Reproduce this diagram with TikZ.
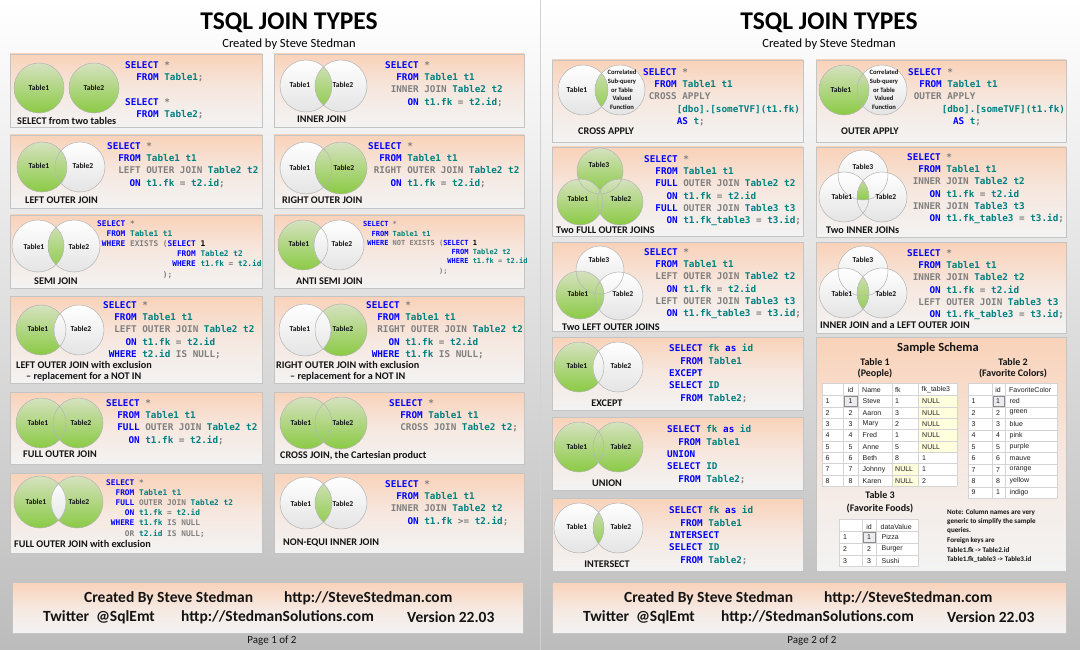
\documentclass[tikz,border=0pt]{standalone}
\usepackage{fontspec}
\setmainfont{Carlito}
\newfontfamily\codefont{DejaVu Sans Mono}
\newfontfamily\gridfont{Liberation Sans}
\definecolor{qblue}{RGB}{0,0,255}
\definecolor{qgray}{RGB}{128,128,128}
\definecolor{qteal}{RGB}{0,128,128}
\definecolor{pk1}{RGB}{249,210,185}
\definecolor{pk2}{RGB}{246,232,224}
\definecolor{pk3}{RGB}{243,243,243}
\definecolor{pbord}{RGB}{196,196,196}
\definecolor{vg1}{RGB}{214,226,192}
\definecolor{vg2}{RGB}{138,202,68}
\definecolor{vw2}{RGB}{228,228,228}
\definecolor{vln}{RGB}{180,180,180}
\definecolor{bgbot}{RGB}{188,188,188}
\definecolor{pdiv}{RGB}{210,210,210}
\definecolor{grl}{RGB}{212,212,212}
\definecolor{nully}{RGB}{255,255,222}
\definecolor{self}{RGB}{236,236,240}
\definecolor{seld}{RGB}{140,140,140}
\definecolor{gtxt}{RGB}{30,30,30}
\definecolor{txt}{RGB}{20,20,20}
\newcommand\qk[1]{\textcolor{qblue}{#1}}
\newcommand\qg[1]{\textcolor{qgray}{#1}}
\newcommand\qb[1]{\textcolor{black}{#1}}
\newcommand\vtwo[7]{%
  \path[#5] (#1,#3) circle (#4pt);
  \path[#6] (#2,#3) circle (#4pt);
  \begin{scope}\clip (#1,#3) circle (#4pt);\path[#7] (#2,#3) circle (#4pt);\end{scope}
  \draw[vline] (#1,#3) circle (#4pt) (#2,#3) circle (#4pt);}
\tikzset{
  gfill/.style={top color=vg1, bottom color=vg2},
  wfill/.style={top color=white, bottom color=vw2},
  vline/.style={draw=vln, line width=0.5pt},
  panel/.style={top color=pk1, bottom color=pk3, middle color=pk2, draw=pbord, line width=0.6pt},
  codebase/.style={anchor=north west, align=left, inner sep=0pt, text=qteal, execute at begin node=\strut},
  codeA/.style={codebase, yshift=3.1pt, font=\codefont\bfseries\fontsize{9.3}{12.35}\selectfont},
  codeB/.style={codebase, yshift=2.8pt, font=\codefont\bfseries\fontsize{7.8}{10.2}\selectfont},
  codeC/.style={codebase, yshift=2.6pt, font=\codefont\bfseries\fontsize{7.0}{9.3}\selectfont},
  jcap/.style={anchor=west, inner sep=0pt, text=txt, font=\bfseries\fontsize{10.2}{11}\selectfont},
  jcapc/.style={jcap, anchor=center},
  vlab/.style={inner sep=0pt, text=txt, font=\bfseries\fontsize{7.6}{8}\selectfont},
  fnlab/.style={inner sep=0pt, align=center, text=txt, font=\bfseries\fontsize{6.6}{8.7}\selectfont},
  ftxt/.style={anchor=west, inner sep=0pt, text=txt, font=\bfseries\fontsize{15.5}{17}\selectfont},
  gline/.style={draw=grl, line width=0.4pt},
  selcell/.style={fill=self, draw=seld, line width=0.5pt},
  gt/.style={inner sep=0pt, text=gtxt, font=\gridfont\fontsize{7}{8}\selectfont},
  sch/.style={inner sep=0pt, text=txt, font=\bfseries\fontsize{10}{11}\selectfont},
  note/.style={anchor=west, inner sep=0pt, text=txt, font=\bfseries\fontsize{7.1}{8}\selectfont}
}
\begin{document}
\begin{tikzpicture}[x=1pt,y=-1pt]
\useasboundingbox (0,0) rectangle (1080,650);
% pages
\path[top color=white, bottom color=bgbot] (0,0) rectangle (540,650);
\path[top color=white, bottom color=bgbot] (540,0) rectangle (1080,650);
\draw[pdiv, line width=1pt] (540,0) -- (540,650);
% titles
\node[inner sep=0pt, font=\bfseries\fontsize{25.5}{28}\selectfont] (titleL) at (289,23) {TSQL JOIN TYPES};
\node[inner sep=0pt, font=\fontsize{12.5}{14}\selectfont] (subL) at (289,44) {Created by Steve Stedman};
\node[inner sep=0pt, font=\bfseries\fontsize{25.5}{28}\selectfont] (titleR) at (829,23) {TSQL JOIN TYPES};
\node[inner sep=0pt, font=\fontsize{12.5}{14}\selectfont] (subR) at (829,44) {Created by Steve Stedman};
% panels left page
\foreach \ya/\yb in {54/127,135/208,215/288,296/383,392/464,473/553}{
  \path[panel] (10,\ya) rectangle (262,\yb);
  \path[panel] (274,\ya) rectangle (524,\yb);
}
% panels right page
\foreach \ya/\yb in {60/142,147/236,242/331,337/410,417/490,498/571}{
  \path[panel] (552,\ya) rectangle (803,\yb);
}
\foreach \ya/\yb in {60/142,147/237,242/333,337/571}{
  \path[panel] (816,\ya) rectangle (1066,\yb);
}
% footers
\path[panel] (12,582) rectangle (523,633);
\path[panel] (552,582) rectangle (1066,633);
\node[ftxt] (f1a) at (84,598) {Created By Steve Stedman};
\node[ftxt] (f1b) at (284,598) {http://SteveStedman.com};
\node[ftxt] (f1c) at (43,617) {Twitter\ \ @SqlEmt};
\node[ftxt] (f1d) at (181,617) {http://StedmanSolutions.com};
\node[ftxt] (f1e) at (407,617) {Version 22.03};
\node[ftxt] (f2a) at (624,598) {Created By Steve Stedman};
\node[ftxt] (f2b) at (824,598) {http://SteveStedman.com};
\node[ftxt] (f2c) at (583,617) {Twitter\ \ @SqlEmt};
\node[ftxt] (f2d) at (721,617) {http://StedmanSolutions.com};
\node[ftxt] (f2e) at (947,617) {Version 22.03};
\node[inner sep=0pt, text=txt, font=\fontsize{11}{12}\selectfont] (pg1) at (272,641) {Page 1 of 2};
\node[inner sep=0pt, text=txt, font=\fontsize{11}{12}\selectfont] (pg2) at (812,641) {Page 2 of 2};

% ---------- P1 SELECT from two tables
\vtwo{39}{94}{88}{25}{gfill}{gfill}{gfill}
\node[vlab] (p1a) at (39,88) {Table1};
\node[vlab] (p1b) at (94,88) {Table2};
\node[jcap] (p1c) at (17,121) {SELECT from two tables};
\node[codeA] (p1s) at (125,64) {\qk{SELECT} \qg{*}\\~~\qk{FROM} Table1\qg{;}\\\mbox{}\\\qk{SELECT} \qg{*}\\~~\qk{FROM} Table2\qg{;}};
% ---------- P2 INNER JOIN
\vtwo{306}{341}{86}{26}{wfill}{wfill}{gfill}
\node[vlab] (p2a) at (300,85) {Table1};
\node[vlab] (p2b) at (343,85) {Table2};
\node[jcap] (p2c) at (297,119) {INNER JOIN};
\node[codeA] (p2s) at (385,64) {\qk{SELECT} \qg{*}\\~~\qk{FROM} Table1 t1\\~\qg{INNER JOIN} Table2 t2\\~~~~\qk{ON} t1.fk \qg{=} t2.id\qg{;}};
% ---------- P3 LEFT OUTER JOIN
\vtwo{42}{80}{167}{25}{gfill}{wfill}{gfill}
\node[vlab] (p3a) at (39,166) {Table1};
\node[vlab] (p3b) at (83,166) {Table2};
\node[jcap] (p3c) at (25,200) {LEFT OUTER JOIN};
\node[codeA] (p3s) at (107,145) {\qk{SELECT} \qg{*}\\~~\qk{FROM} Table1 t1\\~~\qg{LEFT OUTER JOIN} Table2 t2\\~~~~\qk{ON} t1.fk \qg{=} t2.id\qg{;}};
% ---------- P4 RIGHT OUTER JOIN
\vtwo{306}{341}{168}{26}{wfill}{gfill}{gfill}
\node[vlab] (p4a) at (300,168) {Table1};
\node[vlab] (p4b) at (344,168) {Table2};
\node[jcap] (p4c) at (282,200) {RIGHT OUTER JOIN};
\node[codeA] (p4s) at (368,145) {\qk{SELECT} \qg{*}\\~~\qk{FROM} Table1 t1\\~\qg{RIGHT OUTER JOIN} Table2 t2\\~~~~\qk{ON} t1.fk \qg{=} t2.id\qg{;}};
% ---------- P5 SEMI JOIN
\vtwo{38}{74}{246}{26}{wfill}{wfill}{gfill}
\node[vlab] (p5a) at (34,247) {Table1};
\node[vlab] (p5b) at (79,247) {Table2};
\node[jcap] (p5c) at (34,281) {SEMI JOIN};
\node[codeB] (p5s) at (97,223) {\qk{SELECT} \qg{*}\\~~\qk{FROM} Table1 t1\\~\qk{WHERE} \qg{EXISTS (}\qk{SELECT} \qb{1}\\~~~~~~~~~~~~~~~~~\qk{FROM} Table2 t2\\~~~~~~~~~~~~~~~~\qk{WHERE} t1.fk \qg{=} t2.id\\~~~~~~~~~~~~~~\qg{);}};
% ---------- P6 ANTI SEMI JOIN
\vtwo{303}{339}{245}{25}{gfill}{wfill}{wfill}
\node[vlab] (p6a) at (299,244) {Table1};
\node[vlab] (p6b) at (342,244) {Table2};
\node[jcap] (p6c) at (296,281) {ANTI SEMI JOIN};
\node[codeC] (p6s) at (363,224) {\qk{SELECT} \qg{*}\\~~\qk{FROM} Table1 t1\\~\qk{WHERE} \qg{NOT EXISTS (}\qk{SELECT} \qb{1}\\~~~~~~~~~~~~~~~~~~~~~\qk{FROM} Table2 t2\\~~~~~~~~~~~~~~~~~~~~\qk{WHERE} t1.fk \qg{=} t2.id\\~~~~~~~~~~~~~~~~~~\qg{);}};
% ---------- P7 LEFT OUTER JOIN with exclusion
\vtwo{41}{79}{330}{25}{gfill}{wfill}{wfill}
\node[vlab] (p7a) at (38,329) {Table1};
\node[vlab] (p7b) at (81,329) {Table2};
\node[jcap] (p7c) at (16,365) {LEFT OUTER JOIN with exclusion};
\node[jcap] (p7d) at (26,377) {-- replacement for a NOT IN};
\node[codeA] (p7s) at (103,304) {\qk{SELECT} \qg{*}\\~~\qk{FROM} Table1 t1\\~~\qg{LEFT OUTER JOIN} Table2 t2\\~~~~\qk{ON} t1.fk \qg{=} t2.id\\~\qk{WHERE} t2.id \qg{IS NULL;}};
% ---------- P8 RIGHT OUTER JOIN with exclusion
\vtwo{305}{341}{330}{26}{wfill}{gfill}{wfill}
\node[vlab] (p8a) at (300,329) {Table1};
\node[vlab] (p8b) at (343,329) {Table2};
\node[jcap] (p8c) at (276,365) {RIGHT OUTER JOIN with exclusion};
\node[jcap] (p8d) at (290,377) {-- replacement for a NOT IN};
\node[codeA] (p8s) at (366,304) {\qk{SELECT} \qg{*}\\~~\qk{FROM} Table1 t1\\~~\qg{RIGHT OUTER JOIN} Table2 t2\\~~~~\qk{ON} t1.fk \qg{=} t2.id\\~\qk{WHERE} t1.fk \qg{IS NULL;}};
% ---------- P9 FULL OUTER JOIN
\vtwo{41}{78}{423}{25}{gfill}{gfill}{gfill}
\node[vlab] (p9a) at (38,423) {Table1};
\node[vlab] (p9b) at (81,423) {Table2};
\node[jcap] (p9c) at (23,454) {FULL OUTER JOIN};
\node[codeA] (p9s) at (106,402) {\qk{SELECT} \qg{*}\\~~\qk{FROM} Table1 t1\\~~\qk{FULL} \qg{OUTER JOIN} Table2 t2\\~~~~\qk{ON} t1.fk \qg{=} t2.id\qg{;}};
% ---------- P10 CROSS JOIN
\vtwo{306}{341}{423}{26}{gfill}{gfill}{gfill}
\node[vlab] (p10a) at (301,423) {Table1};
\node[vlab] (p10b) at (343,423) {Table2};
\node[jcap] (p10c) at (280,456) {CROSS JOIN, the Cartesian product};
\node[codeA] (p10s) at (389,402) {\qk{SELECT} \qg{*}\\~~\qk{FROM} Table1 t1\\~~\qg{CROSS JOIN} Table2 t2\qg{;}};
% ---------- P11 FULL OUTER JOIN with exclusion
\vtwo{40}{77}{502}{26}{gfill}{gfill}{wfill}
\node[vlab] (p11a) at (36,502) {Table1};
\node[vlab] (p11b) at (79,502) {Table2};
\node[jcap] (p11c) at (14,544) {FULL OUTER JOIN with exclusion};
\node[codeB] (p11s) at (106,482) {\qk{SELECT} \qg{*}\\~~\qk{FROM} Table1 t1\\~~\qk{FULL} \qg{OUTER JOIN} Table2 t2\\~~~~\qk{ON} t1.fk \qg{=} t2.id\\~\qk{WHERE} t1.fk \qg{IS NULL}\\~~~~\qg{OR} t2.id \qg{IS NULL;}};
% ---------- P12 NON-EQUI INNER JOIN
\vtwo{306}{341}{503}{26}{wfill}{wfill}{gfill}
\node[vlab] (p12a) at (301,504) {Table1};
\node[vlab] (p12b) at (343,504) {Table2};
\node[jcap] (p12c) at (283,543) {NON-EQUI INNER JOIN};
\node[codeA] (p12s) at (385,483) {\qk{SELECT} \qg{*}\\~~\qk{FROM} Table1 t1\\~\qg{INNER JOIN} Table2 t2\\~~~~\qk{ON} t1.fk \qg{>=} t2.id\qg{;}};

% ---------- R1 CROSS APPLY
\vtwo{583}{620}{90}{25}{wfill}{wfill}{gfill}
\node[vlab] (r1a) at (577,90) {Table1};
\node[fnlab] (r1b) at (622,90) {Correlated\\Sub-query\\or Table\\Valued\\Function};
\node[jcap] (r1c) at (578,131) {CROSS APPLY};
\node[codeA] (r1s) at (643,71) {\qk{SELECT} \qg{*}\\~~\qk{FROM} Table1 t1\\~\qg{CROSS APPLY}\\~~~~~~[dbo].[someTVF](t1.fk)\\~~~~~~\qk{AS} t\qg{;}};
% ---------- R2 OUTER APPLY
\vtwo{844}{882}{90}{25}{gfill}{wfill}{gfill}
\node[vlab] (r2a) at (841,90) {Table1};
\node[fnlab] (r2b) at (884,90) {Correlated\\Sub-query\\or Table\\Valued\\Function};
\node[jcap] (r2c) at (841,131) {OUTER APPLY};
\node[codeA] (r2s) at (908,71) {\qk{SELECT} \qg{*}\\~~\qk{FROM} Table1 t1\\~\qg{OUTER APPLY}\\~~~~~~[dbo].[someTVF](t1.fk)\\~~~~~~~~\qk{AS} t\qg{;}};
% ---------- R3 Two FULL OUTER JOINS
\path[gfill] (600,171) circle (23pt);
\path[gfill] (580,202) circle (23pt);
\path[gfill] (620,202) circle (23pt);
\draw[vline] (600,171) circle (23pt) (580,202) circle (23pt) (620,202) circle (23pt);
\node[vlab] (r3t) at (599,165) {Table3};
\node[vlab] (r3a) at (578,199) {Table1};
\node[vlab] (r3b) at (621,199) {Table2};
\node[jcap] (r3c) at (556,230) {Two FULL OUTER JOINS};
\node[codeA] (r3s) at (644,158) {\qk{SELECT} \qg{*}\\~~\qk{FROM} Table1 t1\\~~\qk{FULL} \qg{OUTER JOIN} Table2 t2\\~~~~\qk{ON} t1.fk \qg{=} t2.id\\~~\qk{FULL} \qg{OUTER JOIN} Table3 t3\\~~~~\qk{ON} t1.fk\_table3 \qg{=} t3.id\qg{;}};
% ---------- R4 Two LEFT OUTER JOINS
\path[wfill] (600,270) circle (24pt);
\path[wfill] (619,296) circle (24pt);
\path[gfill] (580,295) circle (24pt);
\draw[vline] (600,270) circle (24pt) (580,295) circle (24pt) (619,296) circle (24pt);
\node[vlab] (r4t) at (599,260) {Table3};
\node[vlab] (r4a) at (578,294) {Table1};
\node[vlab] (r4b) at (623,294) {Table2};
\node[jcap] (r4c) at (562,327) {Two LEFT OUTER JOINS};
\node[codeA] (r4s) at (644,251) {\qk{SELECT} \qg{*}\\~~\qk{FROM} Table1 t1\\~~\qg{LEFT OUTER JOIN} Table2 t2\\~~~~\qk{ON} t1.fk \qg{=} t2.id\\~~\qg{LEFT OUTER JOIN} Table3 t3\\~~~~\qk{ON} t1.fk\_table3 \qg{=} t3.id\qg{;}};
% ---------- R5 Two INNER JOINs
\path[wfill] (863,175) circle (25pt);
\path[wfill] (844,197) circle (25pt);
\path[wfill] (882,197) circle (25pt);
\begin{scope}
  \clip (844,197) circle (25pt);
  \clip (882,197) circle (25pt);
  \clip (863,175) circle (25pt);
  \path[gfill] (850,172) rectangle (876,202);
\end{scope}
\draw[vline] (863,175) circle (25pt) (844,197) circle (25pt) (882,197) circle (25pt);
\node[vlab] (r5t) at (863,167) {Table3};
\node[vlab] (r5a) at (842,197) {Table1};
\node[vlab] (r5b) at (886,197) {Table2};
\node[jcap] (r5c) at (826,230) {Two INNER JOINs};
\node[codeA] (r5s) at (907,156) {\qk{SELECT} \qg{*}\\~~\qk{FROM} Table1 t1\\~\qg{INNER JOIN} Table2 t2\\~~~~\qk{ON} t1.fk \qg{=} t2.id\\~\qg{INNER JOIN} Table3 t3\\~~~~\qk{ON} t1.fk\_table3 \qg{=} t3.id\qg{;}};
% ---------- R6 INNER JOIN and a LEFT OUTER JOIN
\path[wfill] (863,271) circle (25pt);
\path[wfill] (844,293) circle (25pt);
\path[wfill] (882,293) circle (25pt);
\begin{scope}
  \clip (844,293) circle (25pt);
  \path[gfill] (882,293) circle (25pt);
\end{scope}
\draw[vline] (863,271) circle (25pt) (844,293) circle (25pt) (882,293) circle (25pt);
\node[vlab] (r6t) at (863,260) {Table3};
\node[vlab] (r6a) at (842,294) {Table1};
\node[vlab] (r6b) at (886,294) {Table2};
\node[jcap] (r6c) at (820,325) {INNER JOIN and a LEFT OUTER JOIN};
\node[codeA] (r6s) at (907,252) {\qk{SELECT} \qg{*}\\~~\qk{FROM} Table1 t1\\~\qg{INNER JOIN} Table2 t2\\~~~~\qk{ON} t1.fk \qg{=} t2.id\\~~\qg{LEFT OUTER JOIN} Table3 t3\\~~~~\qk{ON} t1.fk\_table3 \qg{=} t3.id\qg{;}};
% ---------- R7 EXCEPT
\vtwo{579}{618}{367}{25}{gfill}{wfill}{wfill}
\node[vlab] (r7a) at (577,366) {Table1};
\node[vlab] (r7b) at (621,366) {Table2};
\node[jcapc] (r7c) at (607,403) {EXCEPT};
\node[codeA] (r7s) at (669,347) {\qk{SELECT} fk \qk{as} id\\~~\qk{FROM} Table1\\\qk{EXCEPT}\\\qk{SELECT} ID\\~~\qk{FROM} Table2\qg{;}};
% ---------- R8 UNION
\vtwo{579}{618}{447}{25}{gfill}{gfill}{gfill}
\node[vlab] (r8a) at (577,447) {Table1};
\node[vlab] (r8b) at (621,447) {Table2};
\node[jcapc] (r8c) at (607,483) {UNION};
\node[codeA] (r8s) at (667,428) {\qk{SELECT} fk \qk{as} id\\~~\qk{FROM} Table1\\\qk{UNION}\\\qk{SELECT} ID\\~~\qk{FROM} Table2\qg{;}};
% ---------- R9 INTERSECT
\vtwo{579}{618}{528}{25}{wfill}{wfill}{gfill}
\node[vlab] (r9a) at (577,527) {Table1};
\node[vlab] (r9b) at (621,527) {Table2};
\node[jcapc] (r9c) at (607,564) {INTERSECT};
\node[codeA] (r9s) at (669,509) {\qk{SELECT} fk \qk{as} id\\~~\qk{FROM} Table1\\\qk{INTERSECT}\\\qk{SELECT} ID\\~~\qk{FROM} Table2\qg{;}};

% ---------- Sample Schema
\node[inner sep=0pt, text=txt, font=\bfseries\fontsize{12.5}{14}\selectfont] (ss) at (938,348) {Sample Schema};
\node[sch] (s1a) at (875,362) {Table 1};
\node[sch] (s1b) at (875,374) {(People)};
\node[sch] (s2a) at (1013,362) {Table 2};
\node[sch] (s2b) at (1013,374) {(Favorite Colors)};
\node[sch] (s3a) at (880,495) {Table 3};
\node[sch] (s3b) at (880,509) {(Favorite Foods)};
% Table 1 grid
\fill[white] (822,383) rectangle (957,486.32);
\fill[nully] (918,395.6) rectangle (957,452.3);
\fill[nully] (892,463.64) rectangle (918,486.32);
\foreach \yy in {383,395.6,406.94,418.28,429.62,440.96,452.3,463.64,474.98,486.32} \draw[gline] (822,\yy) -- (957,\yy);
\foreach \xx in {822,843,858,892,918,957} \draw[gline] (\xx,383) -- (\xx,486.32);
\draw[selcell] (843.8,396.4) rectangle (857.2,406.2);
\node[gt] (t1hid) at (850.5,390) {id};
\node[gt, anchor=west] (t1hn) at (862,390) {Name};
\node[gt, anchor=west] (t1hf) at (895,390) {fk};
\node[gt, anchor=west] (t1ht) at (921.5,390) {fk\_table3};
\foreach \id/\nm/\fk/\ft [count=\i] in {1/Steve/1/NULL,2/Aaron/3/NULL,3/Mary/2/NULL,4/Fred/1/NULL,5/Anne/5/NULL,6/Beth/8/1,7/Johnny/NULL/1,8/Karen/NULL/2}{
  \node[gt, anchor=west] (t1r\i) at (825.5,{401.3+(\i-1)*11.34}) {\i};
  \node[gt] (t1i\i) at (850.5,{401.3+(\i-1)*11.34}) {\id};
  \node[gt, anchor=west] (t1n\i) at (862.5,{401.3+(\i-1)*11.34}) {\nm};
  \node[gt, anchor=west] (t1f\i) at (895,{401.3+(\i-1)*11.34}) {\fk};
  \node[gt, anchor=west] (t1t\i) at (922,{401.3+(\i-1)*11.34}) {\ft};
}
% Table 2 grid
\fill[white] (968,383) rectangle (1057,498.1);
\foreach \yy in {383,395.5,406.9,418.3,429.7,441.1,452.5,463.9,475.3,486.7,498.1} \draw[gline] (968,\yy) -- (1057,\yy);
\foreach \xx in {968,992,1005,1057} \draw[gline] (\xx,383) -- (\xx,498.1);
\draw[selcell] (992.8,396.3) rectangle (1004.2,406.1);
\node[gt] (t2hid) at (998,390) {id};
\node[gt, anchor=west] (t2hc) at (1009,390) {FavoriteColor};
\foreach \id/\cl [count=\i] in {1/red,2/green,3/blue,4/pink,5/purple,6/mauve,7/orange,8/yellow,1/indigo}{
  \node[gt, anchor=west] (t2r\i) at (971.5,{401.2+(\i-1)*11.4}) {\i};
  \node[gt] (t2i\i) at (998,{401.2+(\i-1)*11.4}) {\id};
  \node[gt, anchor=west] (t2c\i) at (1009.5,{401.2+(\i-1)*11.4}) {\cl};
}
% Table 3 grid
\fill[white] (839,519.3) rectangle (918,566.6);
\foreach \yy in {519.3,531.5,543.2,554.9,566.6} \draw[gline] (839,\yy) -- (918,\yy);
\foreach \xx in {839,862,876,918} \draw[gline] (\xx,519.3) -- (\xx,566.6);
\draw[selcell] (862.8,532.3) rectangle (875.2,542.4);
\node[gt] (t3hid) at (869,526.5) {id};
\node[gt, anchor=west] (t3hv) at (880.5,526.5) {dataValue};
\foreach \id/\fd [count=\i] in {1/Pizza,2/Burger,3/Sushi}{
  \node[gt, anchor=west] (t3r\i) at (843,{537.35+(\i-1)*11.7}) {\i};
  \node[gt] (t3i\i) at (869,{537.35+(\i-1)*11.7}) {\id};
  \node[gt, anchor=west] (t3v\i) at (881.5,{537.35+(\i-1)*11.7}) {\fd};
}
% note
\node[note] (n1) at (947,513) {Note: Column names are very};
\node[note] (n2) at (947,522) {generic to simplify the sample};
\node[note] (n3) at (947,531) {queries.};
\node[note] (n4) at (947,541) {Foreign keys are};
\node[note] (n5) at (947,550) {Table1.fk -> Table2.id};
\node[note] (n6) at (947,559) {Table1.fk\_table3 -> Table3.id};
\end{tikzpicture}
\end{document}
